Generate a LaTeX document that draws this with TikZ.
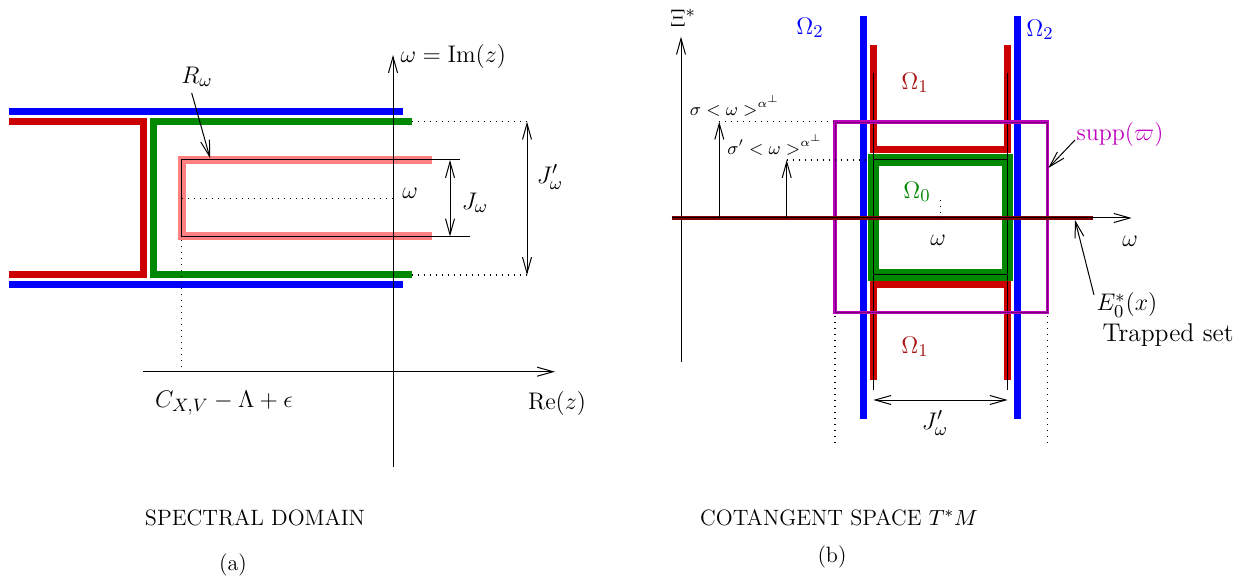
\documentclass[tikz,border=0pt]{standalone}
\usetikzlibrary{arrows.meta}

\definecolor{bandblue}{RGB}{0,0,255}
\definecolor{bandred}{RGB}{204,0,0}
\definecolor{bandpink}{RGB}{255,128,128}
\definecolor{bandgreen}{RGB}{0,136,0}
\definecolor{labelred}{RGB}{170,20,20}
\definecolor{suppmag}{RGB}{190,0,190}
\definecolor{axisbrown}{RGB}{128,0,0}

\tikzset{
    band/.style={line width=3.5pt},
    thinline/.style={line width=0.5pt},
    dotline/.style={line width=0.55pt, dash pattern=on 0.55pt off 2.45pt},
    lab/.style={font=\fontsize{12.8}{15}\selectfont, inner sep=1pt},
    smalllab/.style={font=\fontsize{8.6}{10}\selectfont, inner sep=1pt},
    caption/.style={font=\fontsize{11.1}{13}\selectfont, inner sep=1pt},
}

\begin{document}
\begin{tikzpicture}[x=0.5pt, y=-0.5pt, thinline,
    >={Straight Barb[length=8pt,width=4.5pt]}]

    \useasboundingbox (0,0) rectangle (1251,582);

    % ==========================================
    % 1. SPECTRAL DOMAIN (a)
    % ==========================================
    % Bande colorate
    \draw[band, bandblue] (9,111.7) -- (402.7,111.7);
    \draw[band, bandblue] (9,285) -- (402.7,285);
    \draw[band, bandred] (9,121.7) -- (143.5,121.7) -- (143.5,275) -- (9,275);
    \draw[band, bandgreen] (411.7,121.7) -- (153.5,121.7) -- (153.5,275) -- (411.7,275);

    % Rettangolo R_omega
    \draw[line width=4pt, bandpink] (431.7,160) -- (181.7,160) -- (181.7,236.5) -- (431.7,236.5);
    \draw (460,160) coordinate (rtop) -- (181.7,160) -- (181.7,236.5) -- (470,236.5) coordinate (rbot);
    \draw[dotline] (181.7,198.3) -- (393,198.3);
    \draw[dotline] (181.7,240) -- (181.7,371.7);

    % Assi
    \coordinate (imbot) at (393,467);
    \coordinate (imtop) at (393,55);
    \coordinate (releft) at (143,371.7);
    \coordinate (reright) at (555,371.7);
    \draw[->] (imbot) -- (imtop);
    \draw[->] (releft) -- (reright);
    \node[lab, anchor=west] (imlab) at (398,57) {$\omega=\mathrm{Im}(z)$};
    \node[lab] (relab) at (557,403) {$\mathrm{Re}(z)$};
    \node[lab] (cxv) at (224,403) {$C_{X,V}-\Lambda+\epsilon$};

    % Quote J e J'
    \coordinate (jtop) at (450,160);
    \coordinate (jbot) at (450,236.5);
    \draw[<->] (jtop) -- (jbot);
    \node[lab] (jlab) at (475,203) {$J_\omega$};

    \coordinate (jptop) at (527,121.7);
    \coordinate (jpbot) at (527,275);
    \draw[dotline] (411.7,121.7) -- (jptop);
    \draw[dotline] (411.7,275) -- (jpbot);
    \draw[<->] (jptop) -- (jpbot);
    \node[lab] (jplab) at (550,177) {$J'_\omega$};

    \node[lab] (omlab) at (410,193) {$\omega$};
    \node[lab] (rlab) at (197,77) {$R_\omega$};
    \coordinate (rhit) at (210,158);
    \draw[->] (191.7,93) -- (rhit);

    \node[caption] (capa) at (255,518) {SPECTRAL DOMAIN};
    \node[caption] (numa) at (233,565) {(a)};

    % ==========================================
    % 2. COTANGENT SPACE (b)
    % ==========================================
    % Regione Omega_1 (rossa)
    \draw[band, bandred] (873.3,45) -- (873.3,150) -- (1007.7,150) -- (1007.7,45);
    \draw[band, bandred] (873.3,380) -- (873.3,284.7) -- (1007.7,284.7) -- (1007.7,380);

    % Regione Omega_0 (verde)
    \draw[line width=5.7pt, bandgreen] (873.3,160) rectangle (1007.7,275);
    \draw (873.3,160) rectangle (1007.7,275);
    \draw (873.3,73) -- (873.3,390);
    \draw (1007.7,73) -- (1007.7,390);

    % Regione Omega_2 (blu)
    \draw[band, bandblue] (863.5,16) -- (863.5,419);
    \draw[band, bandblue] (1017.3,16) -- (1017.3,419);

    % Supporto
    \draw[line width=1.8pt, suppmag] (835,122.3) rectangle (1047.3,312.7);
    \draw[line width=0.35pt, suppmag!60!black] (835,122.3) rectangle (1047.3,312.7);
    \draw[dotline] (835,316) -- (835,447);
    \draw[dotline] (1047.3,316) -- (1047.3,447);

    % Assi
    \coordinate (xibot) at (681,361.7);
    \coordinate (xitop) at (681,36.7);
    \draw[->] (xibot) -- (xitop);
    \node[lab] (xilab) at (683,18) {$\Xi^*$};

    \coordinate (omleft) at (671.7,218);
    \coordinate (omright) at (1131.7,218);
    \draw[line width=2.2pt, axisbrown] (omleft) -- (1093,218);
    \draw[->] (omleft) -- (omright);
    \node[lab] (omaxlab) at (1130,241) {$\omega$};

    % Altezze sigma e sigma'
    \coordinate (sigtop) at (719.3,121.7);
    \coordinate (sigptop) at (786.7,160);
    \draw[->] (719.3,218) -- (sigtop);
    \draw[->] (786.7,218) -- (sigptop);
    \draw[dotline] (sigtop) -- (835,121.7);
    \draw[dotline] (sigptop) -- (868,160);
    \node[smalllab] (siglab) at (735,106) {$\sigma<\omega>^{\alpha^\perp}$};
    \node[smalllab] (sigplab) at (775,145) {$\sigma'<\omega>^{\alpha^\perp}$};

    \draw[dotline] (940.7,200) -- (940.7,218);

    % Etichette regioni
    \node[lab, text=bandblue] (om2l) at (810,28) {$\Omega_2$};
    \node[lab, text=bandblue] (om2r) at (1040,30) {$\Omega_2$};
    \node[lab, text=labelred] (om1t) at (915,83) {$\Omega_1$};
    \node[lab, text=labelred] (om1b) at (915,347) {$\Omega_1$};
    \node[lab, text=bandgreen] (om0) at (917,192) {$\Omega_0$};
    \node[lab] (omin) at (938,240) {$\omega$};

    % Quota J'
    \coordinate (jpl) at (873.3,400);
    \coordinate (jpr) at (1007.7,400);
    \draw[<->] (jpl) -- (jpr);
    \node[lab] (jpblab) at (935,423) {$J'_\omega$};

    % supp e trapped set
    \node[lab, text=suppmag] (supplab) at (1120,135) {$\mathrm{supp}(\varpi)$};
    \draw[->] (1075,140) -- (1048.3,168);
    \node[lab] (elab) at (1127,305) {$E_0^*(x)$};
    \draw[->] (1094,295) -- (1075,220);
    \node[lab] (traplab) at (1168,335) {Trapped set};

    \node[caption] (capb) at (839,518) {COTANGENT SPACE $T^*M$};
    \node[caption] (numb) at (832,557) {(b)};

\end{tikzpicture}
\end{document}
